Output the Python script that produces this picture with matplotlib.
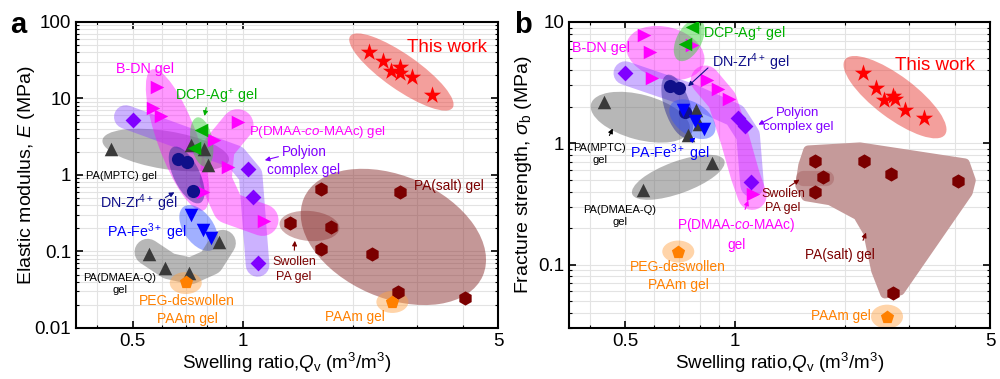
import numpy as np
import matplotlib.pyplot as plt
from matplotlib import transforms
from matplotlib.patches import Ellipse, Polygon
from matplotlib.ticker import LogLocator, NullFormatter, FixedLocator, FixedFormatter

plt.rcParams['font.family'] = ['Liberation Sans', 'DejaVu Sans']
plt.rcParams['mathtext.fontset'] = 'custom'
plt.rcParams['mathtext.rm'] = 'Liberation Sans'
plt.rcParams['mathtext.it'] = 'Liberation Sans:italic'

## Panel a : elastic modulus E (MPa) vs swelling ratio Qv
work_q_a = [2.22, 2.43, 2.55, 2.70, 2.69, 2.91, 3.30]
work_E = [40.5, 31.0, 22.9, 25.8, 21.5, 19.1, 11.1]
bdn_q_a = [0.582, 0.568, 0.597, 0.777]
bdn_E = [14.1, 7.51, 5.91, 0.600]
pdmaa_q_a = [0.969, 0.833, 0.910, 1.141]
pdmaa_E = [4.93, 2.87, 1.27, 0.250]
polyion_q_a = [0.500, 1.032, 1.065, 1.099]
polyion_E = [5.24, 1.20, 0.516, 0.0708]
mptc_q_a = [0.436, 0.721, 0.782, 0.802]
mptc_E = [2.19, 2.47, 2.19, 1.35]
dmaea_q_a = [0.554, 0.612, 0.712, 0.860]
dmaea_E = [0.0927, 0.0609, 0.0524, 0.133]
dcp_q_a = [0.768, 0.735]
dcp_E = [3.88, 2.25]
zr_q_a = [0.664, 0.703, 0.730]
zr_E = [1.62, 1.48, 0.618]
fe_q_a = [0.721, 0.777, 0.818]
fe_E = [0.300, 0.191, 0.150]
peg_q_a = [0.699]
peg_E = [0.0399]
salt_q_a = [1.644, 2.703, 1.644, 2.266, 2.669, 4.067]
salt_E = [0.656, 0.600, 0.108, 0.0927, 0.0296, 0.0247]
swollen_q_a = [1.344, 1.751]
swollen_E = [0.236, 0.209]
paam_q_a = [2.570]
paam_E = [0.0219]

## Panel b : fracture strength sigma_b (MPa) vs swelling ratio Qv
work_q_b = [2.243, 2.434, 2.560, 2.710, 2.744, 2.923, 3.295]
work_s = [3.79, 2.85, 2.27, 2.44, 2.31, 1.87, 1.61]
bdn_q_b = [0.563, 0.585, 0.592, 0.763]
bdn_s = [7.81, 5.65, 3.44, 6.45]
pdmaa_q_b = [0.838, 0.898, 0.963, 1.120]
pdmaa_s = [3.32, 2.80, 2.31, 0.379]
polyion_q_b = [0.499, 1.019, 1.065, 1.106]
polyion_s = [3.79, 1.61, 1.38, 0.476]
mptc_q_b = [0.437, 0.743, 0.782, 0.797]
mptc_s = [2.18, 1.16, 1.87, 1.44]
dmaea_q_b = [0.560, 0.865]
dmaea_s = [0.409, 0.684]
dcp_q_b = [0.763, 0.730]
dcp_s = [9.09, 6.58]
zr_q_b = [0.664, 0.703, 0.730]
zr_s = [2.96, 2.85, 1.80]
fe_q_b = [0.720, 0.777, 0.822]
fe_s = [1.87, 1.52, 1.31]
peg_q_b = [0.698]
peg_s = [0.128]
salt_q_b = [1.656, 2.257, 2.675, 4.083, 2.710]
salt_s = [0.710, 0.710, 0.554, 0.485, 0.0587]
swollen_q_b = [1.742, 1.656]
swollen_s = [0.524, 0.394]
paam_q_b = [2.609]
paam_s = [0.0372]

RED = '#ff0000'; MAG = '#ff00ff'; PUR = '#8000ff'; GRY = '#3a3a3a'
GRN = '#00b000'; NAV = '#10108a'; BLU = '#0000ff'; DRD = '#7b0000'; ORG = '#ff8000'

fig = plt.figure(figsize=(10, 3.79), dpi=100)
axa = fig.add_axes([0.076, 0.1346, 0.422, 0.8074])
axb = fig.add_axes([0.569, 0.1346, 0.421, 0.8074])


def blob(ax, x, y, w, h, ang, color, alpha, z=1):
    # ellipse sized in pixels, centred on a data point
    tr = fig.dpi_scale_trans + transforms.ScaledTranslation(x, y, ax.transData)
    ax.add_patch(Ellipse((0, 0), w / 100, h / 100, angle=ang, transform=tr,
                         fc=color, ec='none', alpha=alpha, zorder=z))


def band(ax, xs, ys, lw, color, alpha, z=1):
    ax.plot(xs, ys, lw=lw, color=color, alpha=alpha, solid_capstyle='round',
            solid_joinstyle='round', zorder=z)


def label(ax, fx, fy, s, color, size=9.8, ha='center', arrow=None):
    ax.text(fx, fy, s, color=color, fontsize=size, ha=ha, va='center',
            transform=ax.transAxes, zorder=5, linespacing=1.3)
    if arrow is not None:
        (x0, y0), (x1, y1) = arrow
        ax.annotate('', xy=(x1, y1), xytext=(x0, y0), xycoords='axes fraction',
                    arrowprops=dict(arrowstyle='-|>', color=color, lw=0.8,
                                    mutation_scale=7), zorder=5)


# ---------- panel a ----------
blob(axa, 2.72, 22.2, 125, 35, -35, '#e8403a', 0.5)
blob(axa, 0.616, 2.12, 128, 38, -9, '#707070', 0.5)
band(axa, [0.479, 0.957, 1.052, 1.099], [5.73, 1.72, 1.0, 0.0666], 17, '#8040ff', 0.4)
blob(axa, 0.664, 2.87, 150, 40, -70, MAG, 0.4)
band(axa, [0.969, 0.860, 0.844, 0.916, 1.134], [4.50, 2.25, 0.860, 0.371, 0.258], 23, MAG, 0.4)
blob(axa, 0.773, 2.70, 50, 22, -80, '#30d030', 0.45)
blob(axa, 0.703, 1.0, 62, 26, -64, '#202090', 0.45)
blob(axa, 0.758, 0.203, 52, 30, -55, '#3050ff', 0.45)
band(axa, [0.550, 0.628, 0.721, 0.818, 0.882], [0.0985, 0.0646, 0.0556, 0.0729, 0.129], 19, '#707070', 0.5)
blob(axa, 0.699, 0.0387, 32, 22, 0, '#ffa040', 0.45)
blob(axa, 2.586, 0.155, 195, 122, -23.5, '#8b3030', 0.5)
blob(axa, 1.524, 0.2155, 60, 30, -5, '#8b3030', 0.4)
blob(axa, 2.570, 0.0219, 32, 22, 0, '#ffa040', 0.45)

series_a = [
    (work_q_a, work_E, '*', RED, 170), (bdn_q_a, bdn_E, '>', MAG, 95),
    (pdmaa_q_a, pdmaa_E, '>', MAG, 95), (polyion_q_a, polyion_E, 'D', PUR, 65),
    (mptc_q_a, mptc_E, '^', GRY, 95), (dmaea_q_a, dmaea_E, '^', GRY, 95),
    (dcp_q_a, dcp_E, '<', GRN, 95), (zr_q_a, zr_E, 'o', NAV, 90),
    (fe_q_a, fe_E, 'v', BLU, 95), (peg_q_a, peg_E, 'p', ORG, 100),
    (salt_q_a, salt_E, 'h', DRD, 105), (swollen_q_a, swollen_E, 'h', DRD, 105),
    (paam_q_a, paam_E, 'p', ORG, 100),
]
for q, v, m, c, s in series_a:
    axa.scatter(q, v, marker=m, color=c, s=s, linewidths=0, zorder=3)

label(axa, 0.879, 0.918, 'This work', RED, size=13.5)
label(axa, 0.1635, 0.846, 'B-DN gel', MAG, size=10.3)
label(axa, 0.332, 0.755, 'DCP-Ag$^{+}$ gel', GRN, size=10.3, arrow=((0.310, 0.729), (0.303, 0.684)))
label(axa, 0.410, 0.641, 'P(DMAA-$co$-MAAc) gel', MAG, ha='left', size=9.5)
label(axa, 0.540, 0.546, 'Polyion\ncomplex gel', PUR, arrow=((0.486, 0.562), (0.441, 0.546)))
label(axa, 0.801, 0.464, 'PA(salt) gel', DRD, ha='left')
label(axa, 0.107, 0.497, 'PA(MPTC) gel', 'black', size=8)
label(axa, 0.149, 0.408, 'DN-Zr$^{4+}$ gel', NAV, size=10.3, arrow=((0.206, 0.422), (0.239, 0.448)))
label(axa, 0.168, 0.314, 'PA-Fe$^{3+}$ gel', BLU, size=10.3)
label(axa, 0.104, 0.144, 'PA(DMAEA-Q)\ngel', 'black', size=8)
label(axa, 0.263, 0.059, 'PEG-deswollen\nPAAm gel', ORG, size=10)
label(axa, 0.517, 0.190, 'Swollen\nPA gel', DRD, size=9, arrow=((0.517, 0.245), (0.519, 0.294)))
label(axa, 0.661, 0.036, 'PAAm gel', ORG)

axa.set_ylim(0.01, 100)
axa.set_ylabel('Elastic modulus, $E$ (MPa)', fontsize=14, labelpad=-2)

# ---------- panel b ----------
blob(axb, 2.744, 2.40, 125, 42, -37, '#e8403a', 0.5)
blob(axb, 0.549, 1.64, 102, 45, -15, '#707070', 0.5)
blob(axb, 0.643, 5.54, 80, 52, -15, MAG, 0.4)
band(axb, [0.4995, 0.753, 1.0, 1.085, 1.113], [3.79, 2.49, 1.70, 1.16, 0.450], 17, '#8040ff', 0.4)
band(axb, [0.828, 0.921, 1.0, 1.065, 1.113], [3.32, 2.27, 1.06, 0.544, 0.372], 21, MAG, 0.4)
blob(axb, 0.748, 7.10, 46, 25, 62, '#30d030', 0.45)
blob(axb, 0.694, 2.02, 66, 26, -72, '#202090', 0.45)
blob(axb, 0.763, 1.58, 52, 32, -35, '#3050ff', 0.45)
blob(axb, 0.698, 0.524, 98, 32, 20, '#707070', 0.5)
blob(axb, 0.698, 0.128, 32, 22, 0, '#ffa040', 0.45)
salt_outline_q = [1.585, 2.200, 4.268, 4.432, 4.349, 2.832, 2.576, 2.434, 2.314, 2.173, 1.821, 1.565, 1.507, 1.536]
salt_outline_s = [0.875, 0.927, 0.684, 0.495, 0.394, 0.0610, 0.0576, 0.0892, 0.184, 0.254, 0.338, 0.365, 0.450, 0.658]
axb.add_patch(Polygon(np.column_stack([salt_outline_q, salt_outline_s]), closed=True,
                      fc='#c59a9a', ec='#c59a9a', lw=7, joinstyle='round', zorder=1))
band(axb, [1.536, 1.776], [0.514, 0.514], 11, '#8b3030', 0.25, z=2)
blob(axb, 2.609, 0.0372, 32, 24, 0, '#ffa040', 0.45)

series_b = [
    (work_q_b, work_s, '*', RED, 170), (bdn_q_b, bdn_s, '>', MAG, 95),
    (pdmaa_q_b, pdmaa_s, '>', MAG, 95), (polyion_q_b, polyion_s, 'D', PUR, 65),
    (mptc_q_b, mptc_s, '^', GRY, 95), (dmaea_q_b, dmaea_s, '^', GRY, 95),
    (dcp_q_b, dcp_s, '<', GRN, 95), (zr_q_b, zr_s, 'o', NAV, 90),
    (fe_q_b, fe_s, 'v', BLU, 95), (peg_q_b, peg_s, 'p', ORG, 100),
    (salt_q_b, salt_s, 'h', DRD, 105), (swollen_q_b, swollen_s, 'h', DRD, 105),
    (paam_q_b, paam_s, 'p', ORG, 100),
]
for q, v, m, c, s in series_b:
    axb.scatter(q, v, marker=m, color=c, s=s, linewidths=0, zorder=3)

label(axb, 0.869, 0.859, 'This work', RED, size=13.5)
label(axb, 0.076, 0.915, 'B-DN gel', MAG, size=10.3)
label(axb, 0.318, 0.9575, 'DCP-Ag$^{+}$ gel', GRN, ha='left', size=10.3)
label(axb, 0.340, 0.869, 'DN-Zr$^{4+}$ gel', NAV, ha='left', size=10.3, arrow=((0.335, 0.856), (0.278, 0.784)))
label(axb, 0.544, 0.680, 'Polyion\ncomplex gel', PUR, size=9.5, arrow=((0.489, 0.693), (0.444, 0.660)))
label(axb, 0.0736, 0.569, 'PA(MPTC)\ngel', 'black', size=8, arrow=((0.093, 0.621), (0.107, 0.660)))
label(axb, 0.240, 0.572, 'PA-Fe$^{3+}$ gel', BLU, size=10.3, arrow=((0.283, 0.605), (0.306, 0.627)))
label(axb, 0.121, 0.366, 'PA(DMAEA-Q)\ngel', 'black', size=8)
label(axb, 0.259, 0.170, 'PEG-deswollen\nPAAm gel', ORG, size=10)
label(axb, 0.397, 0.307, 'P(DMAA-$co$-MAAc)\ngel', MAG, arrow=((0.416, 0.379), (0.428, 0.425)))
label(axb, 0.508, 0.415, 'Swollen\nPA gel', DRD, size=9, arrow=((0.518, 0.4575), (0.553, 0.490)))
label(axb, 0.644, 0.239, 'PA(salt) gel', DRD, arrow=((0.696, 0.278), (0.708, 0.320)))
label(axb, 0.646, 0.039, 'PAAm gel', ORG)

axb.set_ylim(0.03, 10)
axb.set_ylabel(r'Fracture strength, $\sigma_\mathrm{b}$ (MPa)', fontsize=14, labelpad=3)

for ax in (axa, axb):
    ax.set_xscale('log')
    ax.set_yscale('log')
    ax.set_xlim(0.35, 5)
    ax.xaxis.set_major_locator(FixedLocator([0.5, 1, 5]))
    ax.xaxis.set_major_formatter(FixedFormatter(['0.5', '1', '5']))
    ax.xaxis.set_minor_locator(LogLocator(base=10, subs=np.arange(1, 10)))
    ax.xaxis.set_minor_formatter(NullFormatter())
    ax.yaxis.set_minor_locator(LogLocator(base=10, subs=np.arange(2, 10)))
    ax.yaxis.set_minor_formatter(NullFormatter())
    ax.yaxis.set_major_formatter(plt.FuncFormatter(lambda v, p: f'{v:g}'))
    ax.grid(True, which='both', color='#e3e3e3', lw=0.8, zorder=0)
    ax.set_axisbelow(True)
    ax.tick_params(which='both', direction='in', top=True, right=True, labelsize=13.5)
    ax.tick_params(which='major', length=5, width=1.2)
    ax.tick_params(which='minor', length=2.5, width=0.8)
    for sp in ax.spines.values():
        sp.set_linewidth(1.5)
    ax.set_xlabel('Swelling ratio,$Q_\\mathrm{v}$ (m$^3$/m$^3$)', fontsize=13.5, labelpad=1)

fig.text(0.018, 0.934, 'a', fontsize=21, fontweight='bold', ha='center', va='center')
fig.text(0.523, 0.934, 'b', fontsize=21, fontweight='bold', ha='center', va='center')

fig.savefig('out.png', dpi=100)
